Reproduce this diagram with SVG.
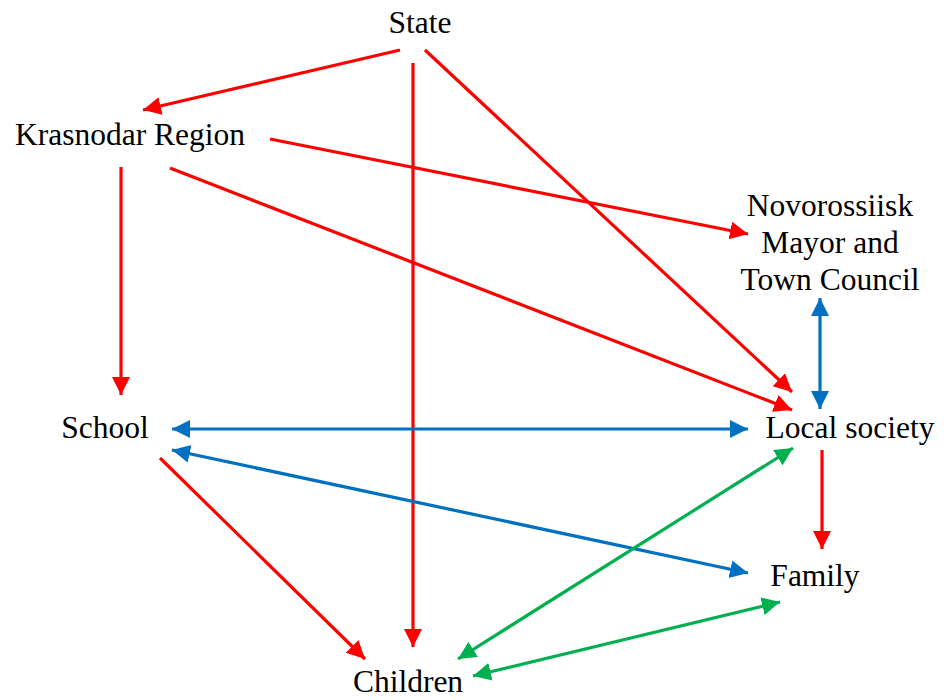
<svg xmlns="http://www.w3.org/2000/svg" width="947" height="700" viewBox="0 0 947 700">
<style>
.t{font-family:"Liberation Serif","Times New Roman",serif;font-size:31.5px;fill:#000;text-anchor:middle}
.r{stroke:#FF0000;stroke-width:3.2;fill:none}
.b{stroke:#0070C0;stroke-width:3.2;fill:none}
.g{stroke:#00B050;stroke-width:3.2;fill:none}
</style>
<defs>
<marker id="ar" markerUnits="userSpaceOnUse" markerWidth="22" markerHeight="20" refX="18" refY="9" orient="auto-start-reverse"><path d="M0,0 L18,9 L0,18 z" fill="#FF0000"/></marker>
<marker id="ab" markerUnits="userSpaceOnUse" markerWidth="22" markerHeight="20" refX="18" refY="9" orient="auto-start-reverse"><path d="M0,0 L18,9 L0,18 z" fill="#0070C0"/></marker>
<marker id="ag" markerUnits="userSpaceOnUse" markerWidth="22" markerHeight="20" refX="18" refY="9" orient="auto-start-reverse"><path d="M0,0 L18,9 L0,18 z" fill="#00B050"/></marker>
</defs>
<rect width="947" height="700" fill="#fff"/>
<g id="connectors">
<line class="r" x1="400" y1="50" x2="143" y2="110" marker-end="url(#ar)"/>
<line class="r" x1="413" y1="63" x2="413" y2="647" marker-end="url(#ar)"/>
<line class="r" x1="425" y1="50" x2="792" y2="392" marker-end="url(#ar)"/>
<line class="r" x1="270" y1="139" x2="748" y2="234" marker-end="url(#ar)"/>
<line class="r" x1="170" y1="168" x2="792" y2="410" marker-end="url(#ar)"/>
<line class="r" x1="121" y1="167" x2="121" y2="395" marker-end="url(#ar)"/>
<line class="b" x1="172" y1="429" x2="748" y2="429" marker-start="url(#ab)" marker-end="url(#ab)"/>
<line class="b" x1="172" y1="450" x2="748" y2="573" marker-start="url(#ab)" marker-end="url(#ab)"/>
<line class="b" x1="820" y1="298" x2="820" y2="409" marker-start="url(#ab)" marker-end="url(#ab)"/>
<line class="r" x1="822" y1="450" x2="822" y2="549" marker-end="url(#ar)"/>
<line class="r" x1="160" y1="458" x2="365" y2="659" marker-end="url(#ar)"/>
<line class="g" x1="793" y1="448" x2="458" y2="659" marker-start="url(#ag)" marker-end="url(#ag)"/>
<line class="g" x1="780" y1="602" x2="473" y2="676" marker-start="url(#ag)" marker-end="url(#ag)"/>
</g>
<g id="state"><text class="t" x="420" y="33">State</text></g>
<g id="krasnodar"><text class="t" x="130" y="145">Krasnodar Region</text></g>
<g id="novorossiisk"><text class="t" x="830" y="216">Novorossiisk</text><text class="t" x="830" y="253">Mayor and</text><text class="t" x="830" y="290">Town Council</text></g>
<g id="school"><text class="t" x="105" y="438">School</text></g>
<g id="local"><text class="t" x="850" y="438">Local society</text></g>
<g id="family"><text class="t" x="815" y="586">Family</text></g>
<g id="children"><text class="t" x="408" y="692">Children</text></g>
</svg>
